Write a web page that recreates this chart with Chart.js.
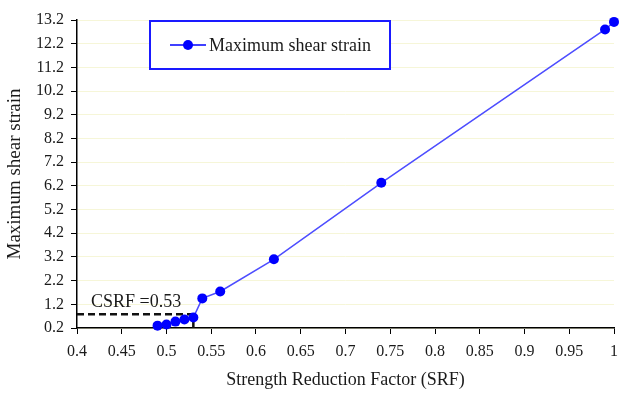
<!DOCTYPE html>
<html>
<head>
<meta charset="utf-8">
<script src="https://cdn.jsdelivr.net/npm/chart.js@4.4.1/dist/chart.umd.min.js"></script>
<style>
  html, body { margin: 0; padding: 0; background: #fff; }
  #wrap { width: 619px; height: 394px; }
</style>
</head>
<body>
<div id="wrap"><canvas id="chart"></canvas></div>
<script>
// values
const srf = [0.49, 0.50, 0.51, 0.52, 0.53, 0.54, 0.56, 0.62, 0.74, 0.99, 1.0];
const strain = [0.3, 0.35, 0.47, 0.56, 0.64, 1.45, 1.74, 3.1, 6.33, 12.8, 13.12];
const xTicks = [0.4, 0.45, 0.5, 0.55, 0.6, 0.65, 0.7, 0.75, 0.8, 0.85, 0.9, 0.95, 1];
const yTicks = [0.2, 1.2, 2.2, 3.2, 4.2, 5.2, 6.2, 7.2, 8.2, 9.2, 10.2, 11.2, 12.2, 13.2];
const csrf = 0.53;
const csrfStrain = 0.78;
const seriesLabel = 'Maximum shear strain';
const csrfLabel = 'CSRF =0.53';
const xTitle = 'Strength Reduction Factor (SRF)';
const yTitle = 'Maximum shear strain';

const FONT = '"Liberation Serif", "Times New Roman", serif';
const TEXT = '#1a1a1a';

const overlay = {
  id: 'overlay',
  afterDraw(chart) {
    const { ctx, chartArea, scales } = chart;
    ctx.save();

    // CSRF label above the dashed line
    ctx.font = '18px ' + FONT;
    ctx.fillStyle = TEXT;
    ctx.textBaseline = 'alphabetic';
    ctx.textAlign = 'left';
    ctx.fillText(csrfLabel, scales.x.getPixelForValue(xTicks[0]) + 14, scales.y.getPixelForValue(csrfStrain) - 7);

    // boxed legend inside the plot
    const bx = chartArea.left + 73, by = chartArea.top + 1, bw = 240, bh = 48;
    ctx.fillStyle = '#fff';
    ctx.fillRect(bx, by, bw, bh);
    ctx.strokeStyle = '#1a1aff';
    ctx.lineWidth = 2;
    ctx.strokeRect(bx, by, bw, bh);
    const ly = by + bh / 2;
    ctx.strokeStyle = '#0000ff';
    ctx.lineWidth = 1.5;
    ctx.beginPath();
    ctx.moveTo(bx + 20, ly);
    ctx.lineTo(bx + 56, ly);
    ctx.stroke();
    ctx.fillStyle = '#0000ff';
    ctx.beginPath();
    ctx.arc(bx + 38, ly, 5, 0, Math.PI * 2);
    ctx.fill();
    ctx.font = '18px ' + FONT;
    ctx.fillStyle = TEXT;
    ctx.textBaseline = 'middle';
    ctx.fillText(seriesLabel, bx + 59, ly + 1);
    ctx.restore();
  }
};

new Chart(document.getElementById('chart'), {
  type: 'scatter',
  data: {
    datasets: [
      {
        label: seriesLabel,
        data: srf.map((x, i) => ({ x, y: strain[i] })),
        showLine: true,
        clip: false,
        borderColor: '#4d4dff',
        borderWidth: 1.5,
        pointRadius: 5,
        pointBackgroundColor: '#0000ff',
        pointBorderWidth: 0,
      },
      {
        label: 'csrf-h',
        data: [{ x: xTicks[0], y: csrfStrain }, { x: csrf, y: csrfStrain }],
        showLine: true,
        borderColor: '#111',
        borderWidth: 2.5,
        borderDash: [7, 4],
        pointRadius: 0,
      },
      {
        label: 'csrf-v',
        data: [{ x: csrf, y: csrfStrain }, { x: csrf, y: yTicks[0] }],
        showLine: true,
        borderColor: '#111',
        borderWidth: 2.5,
        pointRadius: 0,
      },
    ],
  },
  options: {
    responsive: true,
    maintainAspectRatio: false,
    animation: false,
    layout: { padding: { top: 20, right: 0, left: 0, bottom: 0 } },
    plugins: {
      legend: { display: false },
      tooltip: { enabled: false },
    },
    scales: {
      x: {
        type: 'linear',
        min: xTicks[0],
        max: xTicks[xTicks.length - 1],
        afterBuildTicks: (s) => { s.ticks = xTicks.map((v) => ({ value: v })); },
        afterFit: (s) => { s.height = 66; s.paddingRight = 4; },
        ticks: {
          autoSkip: false,
          maxRotation: 0,
          padding: 8,
          color: TEXT,
          font: { family: FONT, size: 16 },
          callback: (v) => String(v),
        },
        grid: { drawOnChartArea: false, tickLength: 6, tickColor: '#000' },
        border: { color: '#000', width: 1.5 },
        title: {
          display: true,
          text: xTitle,
          color: TEXT,
          font: { family: FONT, size: 18 },
          padding: { top: 0, bottom: 3 },
        },
      },
      y: {
        type: 'linear',
        min: yTicks[0],
        max: yTicks[yTicks.length - 1],
        afterBuildTicks: (s) => { s.ticks = yTicks.map((v) => ({ value: v })); },
        afterFit: (s) => { s.width = 77; },
        ticks: {
          autoSkip: false,
          padding: 7,
          color: TEXT,
          font: { family: FONT, size: 16 },
          callback: (v) => String(v),
        },
        grid: { color: '#f6f6d8', tickLength: 6, tickColor: '#000' },
        border: { color: '#000', width: 1.5 },
        title: {
          display: true,
          text: yTitle,
          color: TEXT,
          font: { family: FONT, size: 19 },
          padding: { top: 4, bottom: 0 },
        },
      },
    },
  },
  plugins: [overlay],
});
</script>
</body>
</html>
